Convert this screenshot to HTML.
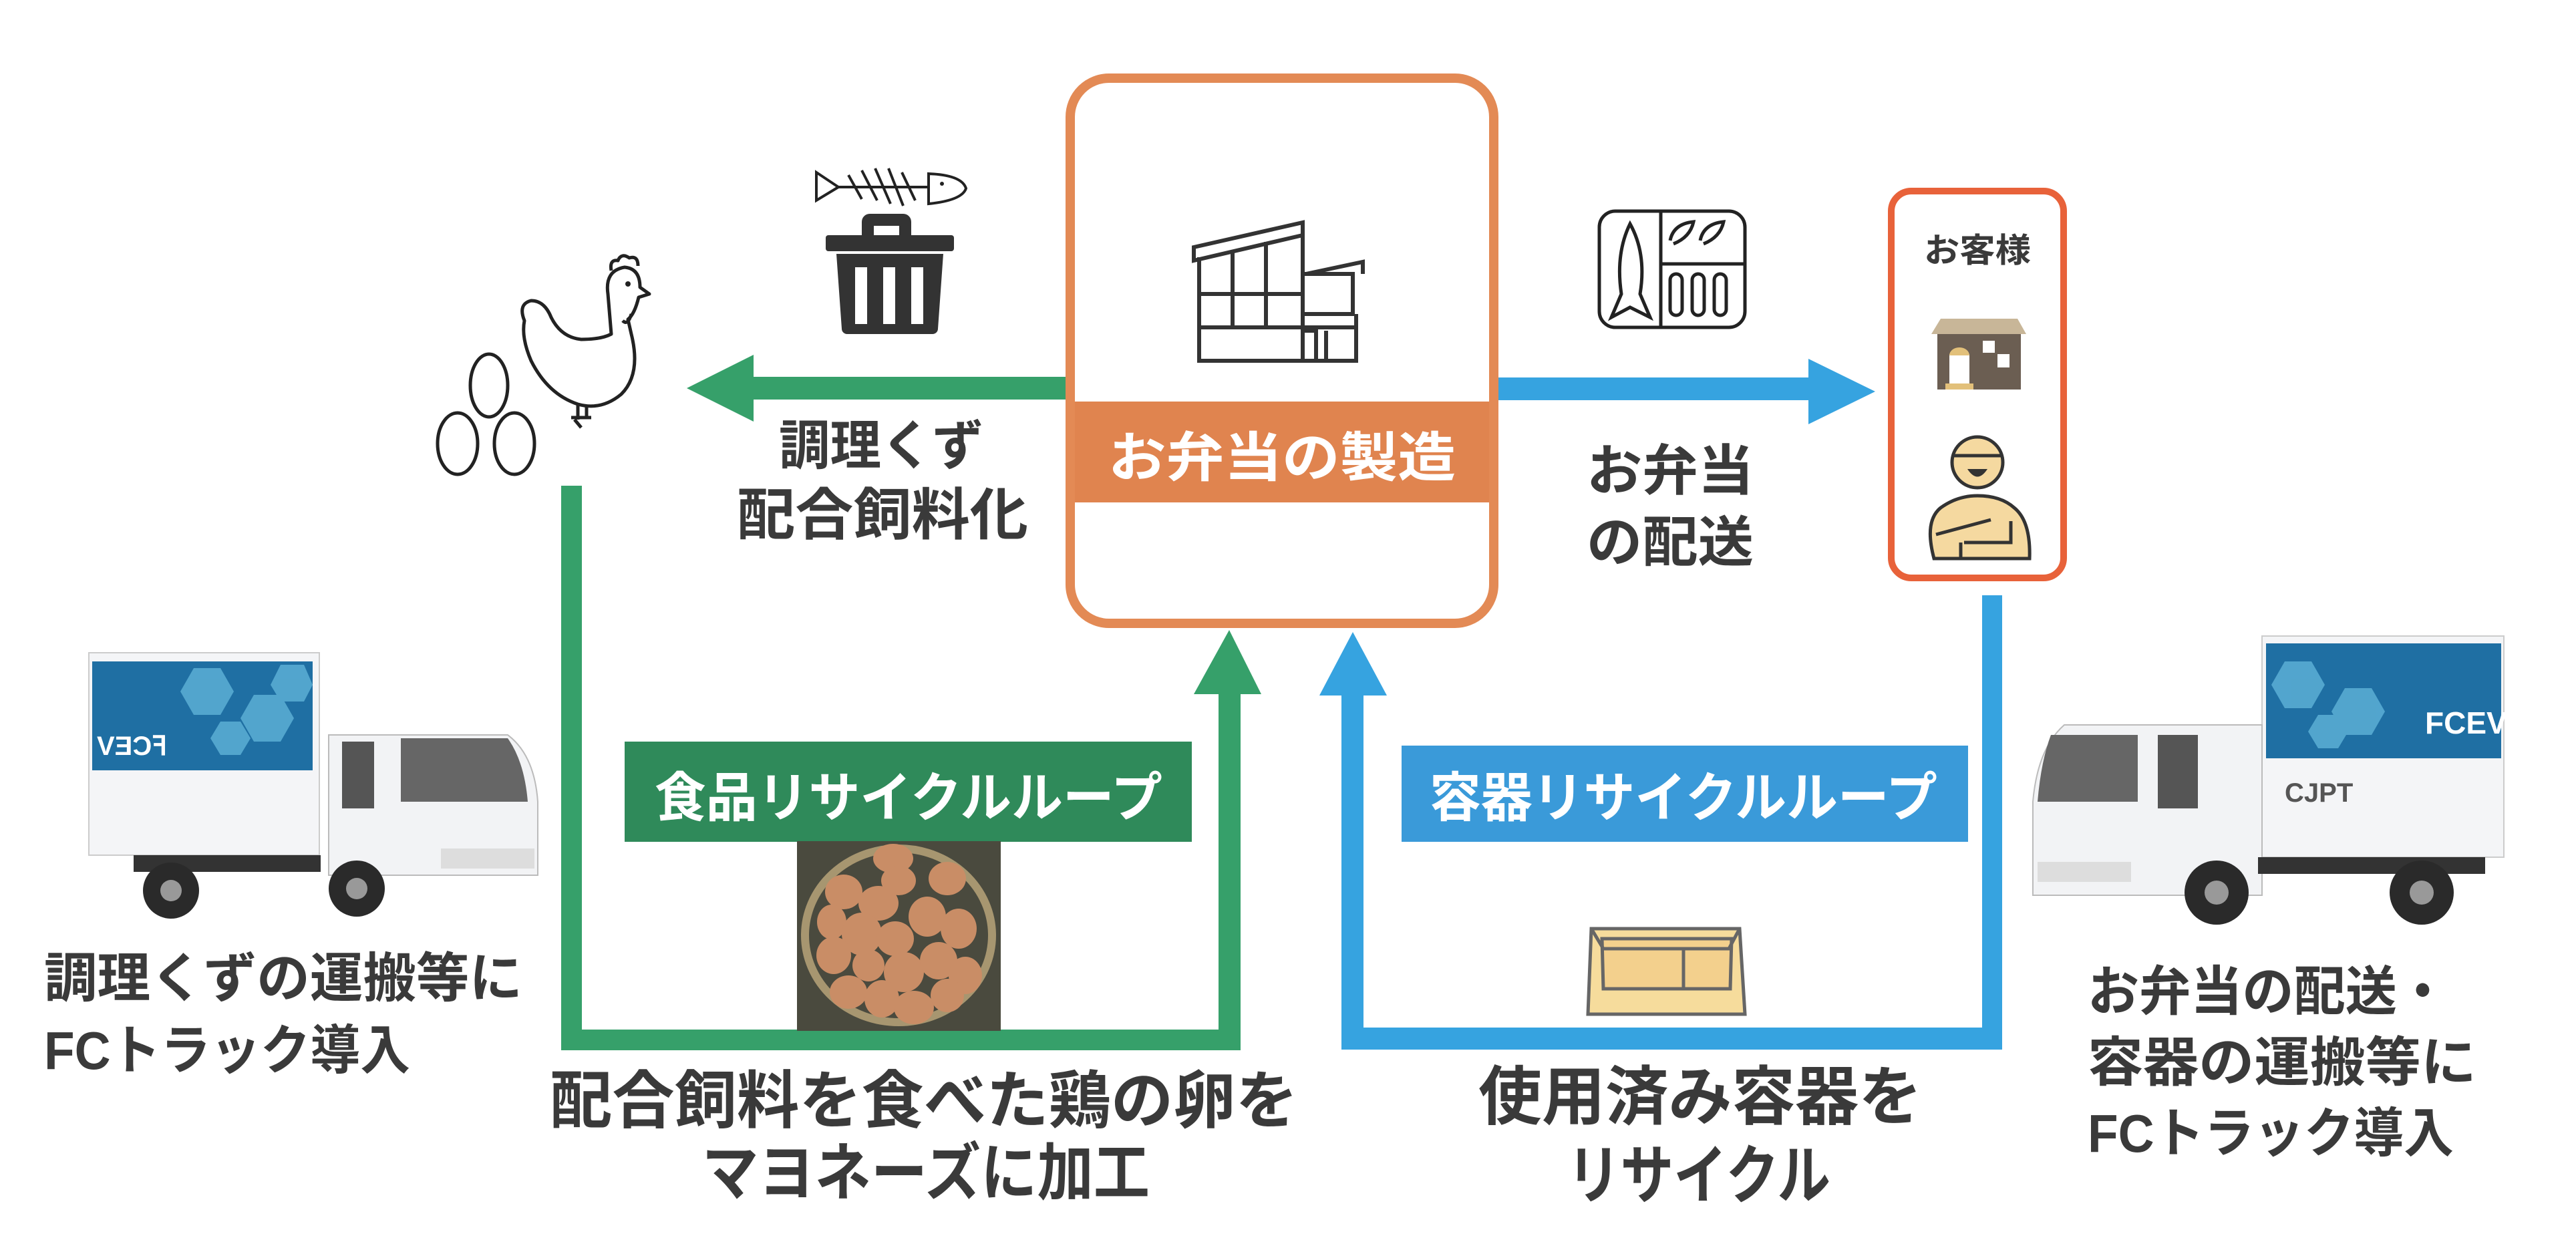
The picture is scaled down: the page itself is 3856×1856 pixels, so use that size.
<!DOCTYPE html>
<html><head><meta charset="utf-8"><style>
html,body{margin:0;padding:0;background:#fff;}
svg{display:block;}
text{font-family:"Liberation Sans","Noto Sans CJK JP",sans-serif;font-weight:bold;}
</style></head><body>
<svg width="3856" height="1856" viewBox="0 0 3856 1856" xmlns="http://www.w3.org/2000/svg">
<rect width="3856" height="1856" fill="#fff"/>

<!-- Main factory box -->
<rect x="1602" y="117" width="634" height="816" rx="58" fill="#fff" stroke="#e38a55" stroke-width="14"/>
<rect x="1609" y="601" width="620" height="151" fill="#e0844f"/>
<text x="1919" y="713" font-size="80" fill="#fff" text-anchor="middle" textLength="520" lengthAdjust="spacingAndGlyphs">お弁当の製造</text>

<!-- factory icon -->
<g fill="none" stroke="#333" stroke-width="6">
<path d="M1787 370 L1950 333 L1950 352 L1787 390 Z"/>
<path d="M1795 385 V540 H2030 V470"/>
<path d="M1795 440 H1950 M1795 490 H2030 M1845 375 V490 M1895 362 V490 M1950 352 V540"/>
<path d="M1950 410 H2025 V470 H1950"/>
<path d="M1955 410 L2040 392 L2040 410"/>
<path d="M1953 495 H1970 V540 M1985 495 V540"/>
</g>

<!-- Green left arrow -->
<rect x="1125" y="564" width="470" height="34" fill="#36a06a"/>
<polygon points="1028,581 1128,531 1128,631" fill="#36a06a"/>
<text x="1166" y="695" font-size="80" fill="#3a3a3a" textLength="306" lengthAdjust="spacingAndGlyphs">調理くず</text>
<text x="1103" y="800" font-size="84" fill="#3a3a3a" textLength="436" lengthAdjust="spacingAndGlyphs">配合飼料化</text>

<!-- fish bone -->
<g fill="none" stroke="#222" stroke-width="4">
<path d="M1222 258 L1255 280 L1222 300 Z"/>
<path d="M1255 280 H1390"/>
<path d="M1270 262 L1290 298 M1290 255 L1313 300 M1310 252 L1333 305 M1330 252 L1352 308 M1350 258 L1370 300"/>
<path d="M1390 260 Q1440 262 1446 282 Q1440 300 1390 305 Z"/>
</g>
<circle cx="1410" cy="275" r="3" fill="#222"/>
<!-- trash -->
<g fill="#333">
<path d="M1302 320 h50 a12 12 0 0 1 12 12 v22 h-18 v-16 h-38 v16 h-18 v-22 a12 12 0 0 1 12 -12z"/>
<rect x="1236" y="352" width="192" height="24" rx="4"/>
<path d="M1252 380 H1412 L1404 492 a8 8 0 0 1 -8 8 H1268 a8 8 0 0 1 -8 -8 Z"/>
</g>
<g fill="#fff"><rect x="1280" y="400" width="18" height="85"/><rect x="1322" y="400" width="18" height="85"/><rect x="1364" y="400" width="18" height="85"/></g>

<!-- chicken -->
<g fill="none" stroke="#222" stroke-width="5" stroke-linejoin="round">
<path d="M915 500 L910 440 Q905 405 935 400 Q958 402 958 430 L972 440 L956 445 Q950 470 940 478 L945 500 Q960 560 930 590 Q900 615 865 605 Q820 590 795 540 Q780 505 785 480 Q775 455 795 450 Q815 450 825 475 Q840 505 870 508 Q900 508 915 500 Z"/>
<path d="M915 405 Q912 388 925 390 Q930 378 942 386 Q955 382 955 398"/>
<path d="M945 470 Q940 488 932 480"/>
<path d="M865 605 V628 M855 625 H885 M878 607 V625 M860 628 L870 640"/>
</g>
<circle cx="940" cy="425" r="4" fill="#222"/>
<g fill="none" stroke="#222" stroke-width="5">
<ellipse cx="732" cy="577" rx="28" ry="47"/>
<ellipse cx="685" cy="664" rx="30" ry="46"/>
<ellipse cx="770" cy="664" rx="30" ry="46"/>
</g>

<!-- Blue right arrow -->
<rect x="2243" y="565" width="470" height="34" fill="#36a3e0"/>
<polygon points="2807,586 2707,537 2707,635" fill="#36a3e0"/>
<text x="2375" y="733" font-size="82" fill="#3a3a3a" textLength="250" lengthAdjust="spacingAndGlyphs">お弁当</text>
<text x="2375" y="840" font-size="82" fill="#3a3a3a" textLength="250" lengthAdjust="spacingAndGlyphs">の配送</text>

<!-- bento icon -->
<g fill="none" stroke="#222" stroke-width="5">
<rect x="2394" y="316" width="218" height="174" rx="24"/>
<path d="M2486 316 V490 M2486 395 H2612"/>
<path d="M2440 335 Q2465 380 2455 440 L2470 475 L2440 460 L2412 475 L2427 440 Q2418 380 2440 335 Z"/>
<path d="M2500 360 Q2505 335 2535 332 Q2530 355 2505 365 M2545 360 Q2550 335 2580 332 Q2575 355 2550 365"/>
<rect x="2500" y="410" width="18" height="62" rx="9"/><rect x="2533" y="410" width="18" height="62" rx="9"/><rect x="2566" y="410" width="18" height="62" rx="9"/>
</g>

<!-- customer box -->
<rect x="2831" y="286" width="258" height="579" rx="30" fill="#fff" stroke="#e8623a" stroke-width="10"/>
<text x="2960" y="392" font-size="50" fill="#3a3a3a" text-anchor="middle" textLength="160" lengthAdjust="spacingAndGlyphs">お客様</text>
<polygon points="2905,477 3020,477 3033,500 2891,500" fill="#c8b698"/>
<rect x="2900" y="500" width="125" height="83" fill="#6b5e52"/>
<rect x="2918" y="530" width="30" height="45" fill="#fff"/>
<path d="M2918 532 a15 12 0 0 1 30 0" fill="#e2c07a"/>
<rect x="2912" y="574" width="42" height="9" fill="#e2c07a"/>
<rect x="2968" y="510" width="18" height="18" fill="#fff"/><rect x="2990" y="530" width="18" height="20" fill="#fff"/>
<g stroke="#333" stroke-width="5" fill="#f5d9a0">
<circle cx="2960" cy="692" r="38"/>
<path d="M2895 836 Q2880 780 2905 760 Q2930 742 2960 742 Q2995 742 3015 760 Q3040 780 3038 836 Z"/>
</g>
<path d="M2925 682 H2995" stroke="#333" stroke-width="5"/>
<path d="M2945 702 Q2960 725 2975 702 Z" fill="#333"/>
<path d="M2898 800 L2980 778 M2940 812 H3010 V780 M2935 836 V812" stroke="#333" stroke-width="5" fill="none"/>

<!-- Blue loop -->
<rect x="2967" y="891" width="30" height="680" fill="#36a3e0"/>
<rect x="2008" y="1538" width="989" height="33" fill="#36a3e0"/>
<rect x="2008" y="1036" width="33" height="535" fill="#36a3e0"/>
<polygon points="2025,946 1975,1041 2076,1041" fill="#36a3e0"/>
<rect x="2098" y="1116" width="848" height="144" fill="#3a9ad9"/>
<text x="2520" y="1222" font-size="80" fill="#fff" text-anchor="middle" textLength="760" lengthAdjust="spacingAndGlyphs">容器リサイクルループ</text>
<!-- box icon -->
<g stroke="#666" stroke-width="5" fill="#f6dc9c">
<polygon points="2382,1390 2604,1390 2612,1518 2377,1518"/>
<polygon points="2398,1405 2592,1405 2590,1480 2400,1480" fill="#f3d08d"/>
<path d="M2382 1390 L2400 1420 H2588 L2604 1390 M2520 1420 V1480" fill="none"/>
</g>
<text x="2545" y="1675" font-size="96" fill="#3a3a3a" text-anchor="middle" textLength="664" lengthAdjust="spacingAndGlyphs">使用済み容器を</text>
<text x="2543" y="1793" font-size="96" fill="#3a3a3a" text-anchor="middle" textLength="394" lengthAdjust="spacingAndGlyphs">リサイクル</text>

<!-- Green loop -->
<rect x="840" y="727" width="31" height="845" fill="#36a06a"/>
<rect x="840" y="1541" width="1017" height="31" fill="#36a06a"/>
<rect x="1824" y="1036" width="33" height="536" fill="#36a06a"/>
<polygon points="1840,943 1787,1039 1888,1039" fill="#36a06a"/>
<rect x="935" y="1110" width="849" height="150" fill="#2f8a5a"/>
<text x="1360" y="1222" font-size="80" fill="#fff" text-anchor="middle" textLength="760" lengthAdjust="spacingAndGlyphs">食品リサイクルループ</text>
<!-- eggs photo -->
<rect x="1193" y="1259" width="305" height="284" fill="#4a4a3e"/>
<ellipse cx="1345" cy="1400" rx="140" ry="130" fill="none" stroke="#a79670" stroke-width="12"/>
<g fill="#c98d66">
<ellipse cx="1337" cy="1285" rx="30" ry="22"/><ellipse cx="1418" cy="1315" rx="28" ry="25"/>
<ellipse cx="1263" cy="1335" rx="28" ry="26"/><ellipse cx="1315" cy="1352" rx="30" ry="26"/><ellipse cx="1345" cy="1318" rx="26" ry="22"/>
<ellipse cx="1388" cy="1372" rx="28" ry="30"/><ellipse cx="1435" cy="1390" rx="27" ry="30"/><ellipse cx="1245" cy="1380" rx="22" ry="26"/>
<ellipse cx="1290" cy="1398" rx="30" ry="32"/><ellipse cx="1340" cy="1405" rx="28" ry="26"/><ellipse cx="1248" cy="1430" rx="26" ry="28"/>
<ellipse cx="1300" cy="1445" rx="24" ry="24"/><ellipse cx="1353" cy="1455" rx="30" ry="30"/><ellipse cx="1405" cy="1438" rx="28" ry="28"/>
<ellipse cx="1445" cy="1460" rx="25" ry="28"/><ellipse cx="1270" cy="1485" rx="28" ry="25"/><ellipse cx="1320" cy="1495" rx="26" ry="28"/>
<ellipse cx="1368" cy="1508" rx="30" ry="25"/><ellipse cx="1418" cy="1490" rx="25" ry="25"/>
</g>
<text x="1383" y="1680" font-size="94" fill="#3a3a3a" text-anchor="middle" textLength="1120" lengthAdjust="spacingAndGlyphs">配合飼料を食べた鶏の卵を</text>
<text x="1386" y="1788" font-size="94" fill="#3a3a3a" text-anchor="middle" textLength="670" lengthAdjust="spacingAndGlyphs">マヨネーズに加工</text>

<!-- Left truck -->
<g>
<rect x="133" y="977" width="345" height="303" fill="#f4f5f7" stroke="#ccc" stroke-width="2"/>
<rect x="138" y="990" width="330" height="163" fill="#1f6fa3"/>
<g fill="#5fb3d8" opacity="0.8"><polygon points="290,1000 330,1000 350,1035 330,1070 290,1070 270,1035"/><polygon points="380,1040 420,1040 440,1075 420,1110 380,1110 360,1075"/><polygon points="330,1080 360,1080 375,1105 360,1130 330,1130 315,1105"/><polygon points="420,995 455,995 468,1025 455,1050 420,1050 405,1025"/></g>
<text x="145" y="1130" font-size="40" fill="#fff" font-family="Liberation Sans">VƎϽꟻ</text>
<path d="M492 1100 H760 Q800 1130 805 1200 V1310 H492 Z" fill="#f2f3f5" stroke="#bbb" stroke-width="2"/>
<path d="M512 1110 H560 V1210 H512 Z" fill="#555"/>
<path d="M600 1105 H760 Q785 1140 790 1200 H600 Z" fill="#666"/>
<rect x="660" y="1270" width="140" height="30" fill="#ddd"/>
<rect x="200" y="1280" width="280" height="25" fill="#333"/>
<circle cx="256" cy="1333" r="42" fill="#2a2a2a"/><circle cx="256" cy="1333" r="16" fill="#999"/>
<circle cx="534" cy="1330" r="42" fill="#2a2a2a"/><circle cx="534" cy="1330" r="16" fill="#999"/>
</g>
<text x="66" y="1492" font-size="80" fill="#3a3a3a" textLength="716" lengthAdjust="spacingAndGlyphs">調理くずの運搬等に</text>
<text x="66" y="1600" font-size="80" fill="#3a3a3a" textLength="548" lengthAdjust="spacingAndGlyphs">FCトラック導入</text>

<!-- Right truck -->
<g>
<rect x="3386" y="952" width="362" height="331" fill="#f4f5f7" stroke="#ccc" stroke-width="2"/>
<rect x="3392" y="963" width="352" height="172" fill="#1f6fa3"/>
<g fill="#5fb3d8" opacity="0.8"><polygon points="3420,990 3460,990 3480,1025 3460,1060 3420,1060 3400,1025"/><polygon points="3510,1030 3550,1030 3570,1065 3550,1100 3510,1100 3490,1065"/><polygon points="3470,1070 3500,1070 3515,1095 3500,1120 3470,1120 3455,1095"/></g>
<text x="3630" y="1098" font-size="46" fill="#fff" font-family="Liberation Sans">FCEV</text>
<text x="3420" y="1200" font-size="40" fill="#555" font-family="Liberation Serif">CJPT</text>
<path d="M3386 1085 H3090 Q3050 1120 3043 1200 V1340 H3386 Z" fill="#f2f3f5" stroke="#bbb" stroke-width="2"/>
<path d="M3070 1100 H3200 V1200 H3050 Q3055 1140 3070 1100 Z" fill="#666"/>
<path d="M3230 1100 H3290 V1210 H3230 Z" fill="#555"/>
<rect x="3050" y="1290" width="140" height="30" fill="#ddd"/>
<rect x="3380" y="1283" width="340" height="25" fill="#333"/>
<circle cx="3318" cy="1336" r="48" fill="#2a2a2a"/><circle cx="3318" cy="1336" r="18" fill="#999"/>
<circle cx="3625" cy="1336" r="48" fill="#2a2a2a"/><circle cx="3625" cy="1336" r="18" fill="#999"/>
</g>
<text x="3125" y="1512" font-size="80" fill="#3a3a3a" textLength="540" lengthAdjust="spacingAndGlyphs">お弁当の配送・</text>
<text x="3125" y="1618" font-size="80" fill="#3a3a3a" textLength="582" lengthAdjust="spacingAndGlyphs">容器の運搬等に</text>
<text x="3125" y="1724" font-size="80" fill="#3a3a3a" textLength="548" lengthAdjust="spacingAndGlyphs">FCトラック導入</text>
</svg>
</body></html>
